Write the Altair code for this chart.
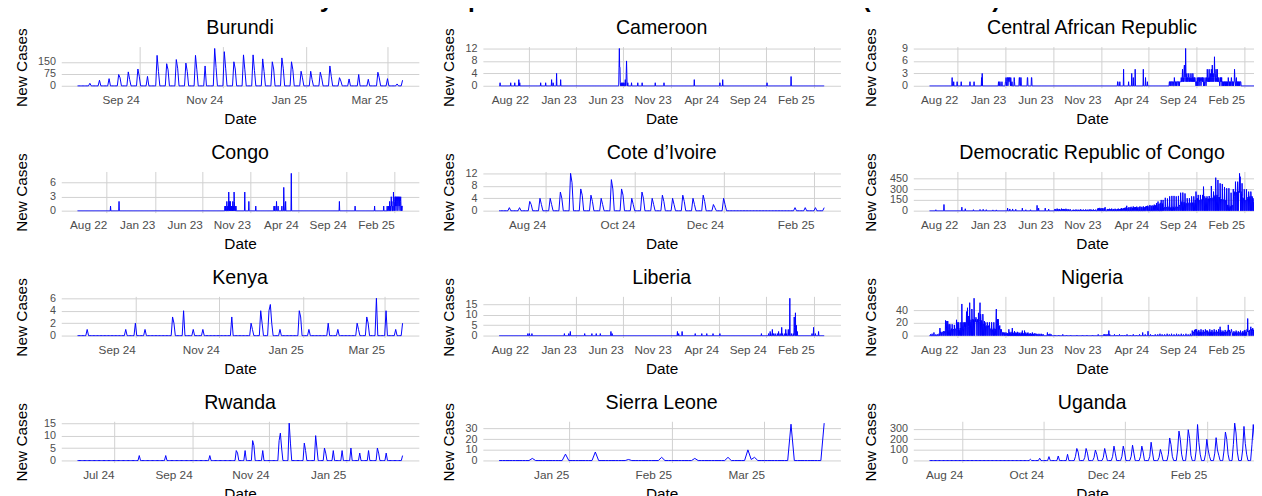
import altair as alt
import pandas as pd

FONT = "Liberation Sans"
PANEL_W = 365
PANEL_H = 42
DAY_MS = 86400000

MAIN_TITLE = "Daily Cases of Mpox in Selected African Countries (2022\u20132025)"

COUNTRIES = ["Burundi", "Cameroon", "Central African Republic",
             "Congo", "Cote d\u2019Ivoire", "Democratic Republic of Congo",
             "Kenya", "Liberia", "Nigeria",
             "Rwanda", "Sierra Leone", "Uganda"]

START_DATES = ["2024-07-18", "2022-04-29", "2022-05-03",
               "2022-04-30", "2024-06-30", "2022-05-03",
               "2024-07-21", "2022-04-29", "2022-05-03",
               "2024-06-02", "2024-12-11", "2024-07-07"]

N_DAYS = [237, 1041, 1037,
          1034, 223, 1037,
          236, 1041, 1037,
          258, 98, 245]

Y_TICKS = [[0, 75, 150], [0, 4, 8, 12], [0, 3, 6, 9],
           [0, 3, 6], [0, 4, 8, 12], [0, 150, 300, 450],
           [0, 2, 4, 6], [0, 5, 10, 15], [0, 20, 40],
           [0, 5, 10, 15], [0, 10, 20, 30], [0, 100, 200, 300]]

BREAKS_LONG = ["2022-08-01", "2023-01-01", "2023-06-01", "2023-11-01",
               "2024-04-01", "2024-09-01", "2025-02-01"]
BREAKS_SEP_MAR = ["2024-09-01", "2024-11-01", "2025-01-01", "2025-03-01"]
BREAKS_JUL_JAN = ["2024-07-01", "2024-09-01", "2024-11-01", "2025-01-01"]
BREAKS_AUG_FEB = ["2024-08-01", "2024-10-01", "2024-12-01", "2025-02-01"]
BREAKS_JAN_MAR = ["2025-01-01", "2025-02-01", "2025-03-01"]

X_BREAKS = [BREAKS_SEP_MAR, BREAKS_LONG, BREAKS_LONG,
            BREAKS_LONG, BREAKS_AUG_FEB, BREAKS_LONG,
            BREAKS_SEP_MAR, BREAKS_LONG, BREAKS_LONG,
            BREAKS_JUL_JAN, BREAKS_JAN_MAR, BREAKS_AUG_FEB]

# reported values: (day offset from start date, [values on consecutive days]); other days are 0
BURUNDI = [(9, [16]), (16, [35]), (23, [45]), (30, [71, 50]), (37, [87, 40]), (44, [105, 60]),
           (51, [59]), (58, [190, 90]), (65, [138, 100]), (72, [164, 110]), (79, [142, 90]),
           (86, [190, 100]), (93, [124]), (100, [233, 115]), (107, [213, 110]), (114, [150, 105]),
           (121, [193, 100]), (128, [193, 95]), (135, [168, 90]), (142, [150, 105]), (149, [174, 110]),
           (156, [150, 100]), (163, [91, 50]), (170, [91, 40]), (177, [85, 50]), (184, [124, 60]),
           (191, [51, 30]), (198, [43]), (205, [71]), (212, [41]), (219, [85, 50]), (226, [45]),
           (233, [12]), (237, [35])]

CAMEROON = [(3, [1]), (37, [1]), (50, [1]), (63, [2]), (66, [1]), (133, [1]), (149, [1]), (168, [2]),
            (173, [1]), (184, [4]), (197, [2]), (384, [6, 12, 6, 6, 1]), (391, [1]), (394, [1]),
            (397, [1]), (400, [1]), (404, [2]), (407, [4, 8, 4]), (412, [1]), (424, [1]), (444, [1]),
            (458, [1]), (500, [1]), (528, [1]), (625, [2]), (707, [1]), (716, [2]), (858, [1]), (935, [3])]

CAR = [(72, [2]), (77, [1]), (88, [1]), (101, [1]), (129, [1]), (142, [1]), (166, [2, 0, 3]),
       (220, [1, 0, 0, 0, 1, 1, 0, 0, 0, 0, 0, 1]),
       (242, [1, 1, 2, 1, 0, 1, 2, 2, 0, 1, 2, 1, 1, 2, 2, 1, 0, 2, 1]),
       (263, [1, 0, 0, 0, 0, 0, 0, 2, 1]), (286, [2, 2, 0, 0, 0, 2, 2]), (312, [2, 2]), (325, [2, 2]),
       (600, [1, 1]), (607, [1]), (619, [4]), (635, [1]), (645, [3]), (650, [2]), (656, [4]),
       (682, [4]), (689, [2]), (695, [1]),
       (765, [1, 1, 0, 1, 1, 0, 1, 1, 1, 0, 1, 1, 1, 1, 0, 0, 2, 1, 1, 0, 1, 1, 1, 0, 1, 1, 1, 1, 0, 1,
              1, 1, 0, 1, 1, 1]),
       (801, [1, 1, 2, 1, 1, 2, 4, 1, 2, 1, 2, 4, 5, 2, 1, 2, 9, 3, 1, 2, 3, 1, 2, 2, 1, 2, 3, 2, 1, 2,
              2, 1, 2, 3, 2, 1, 2, 2, 1, 3, 2, 1, 2, 2, 1, 2, 2, 1]),
       (849, [1, 0, 1, 1, 0, 2, 1, 0, 2, 2, 1, 0, 2, 1, 2, 2, 1, 0, 1, 2, 2, 1, 2, 1, 2, 0, 1, 1, 0, 1,
              2, 1, 1, 0, 1]),
       (884, [2, 1, 4, 2, 1, 2, 1, 2, 4, 1, 2, 1, 3, 2, 1, 4, 2, 1, 5, 2, 1, 3, 2, 1, 2, 7, 3, 2, 1, 3,
              4, 2, 1, 2, 4, 1, 2, 1, 1, 2, 1, 1, 0, 1, 2]),
       (929, [1, 2, 1, 2, 0, 1, 1, 0, 1, 0, 1, 1, 1, 0, 1, 0, 1, 1, 0, 1, 1, 0, 1, 0, 2, 1, 1, 0, 1, 0,
              1, 1, 0, 1, 2, 1, 0, 1, 1, 0, 1, 0, 1, 1, 4, 2, 1, 0, 1, 1, 2, 0, 1, 1, 0, 1, 0, 1, 1, 0,
              1, 0, 1, 1, 1])]

CONGO = [(105, [1]), (132, [2]),
         (469, [1, 0, 1, 0, 0, 0, 2, 0, 0, 1, 0, 0, 4, 1, 0, 2, 0, 2, 0, 1, 0, 1, 0, 1, 0, 2, 0, 1, 0, 4,
                2, 0, 1, 0, 0, 1]),
         (532, [4]), (545, [2]), (567, [1]), (625, [1]), (628, [1]), (633, [2]), (638, [1]), (650, [1]),
         (656, [5, 2]), (662, [2]), (680, [8]), (833, [2]), (883, [1]), (945, [1]), (974, [1]),
         (985, [1, 0, 0, 0, 1, 0, 0, 0, 2, 0, 1, 0, 0, 3, 1, 2, 0, 0, 1, 0, 4, 2, 1, 0, 2, 3, 1, 3, 0, 2,
                3, 1, 2, 3, 0, 1, 3, 2, 1, 3, 1, 0, 2, 3, 1, 0, 1, 0, 1, 1])]

COTE_DIVOIRE = [(7, [1]), (14, [1]), (21, [3, 2]), (28, [4, 2]), (35, [4, 2]), (42, [6, 4]), (49, [12, 9]),
                (56, [7, 5]), (63, [5, 3]), (70, [4, 2]), (77, [10, 7]), (84, [7, 5]), (91, [4, 2]),
                (98, [6, 4]), (105, [4, 2]), (112, [5, 3]), (119, [4, 2]), (126, [5, 3]), (133, [4, 2]),
                (140, [5, 3]), (147, [2, 1]), (154, [4, 2]), (203, [1]), (210, [1]), (217, [1]), (223, [1])]

DRC = [(20, [14]), (46, [87]), (103, [50]), (114, [28]), (140, [15]), (161, [18]), (171, [20]), (181, [15]),
       (202, [12]), (213, [12]), (249, [37]), (256, [25]), (265, [25]), (275, [20]), (296, [37]),
       (307, [14]), (322, [14]), (343, [75]), (348, [37]), (369, [37]), (380, [23]),
       (400, [25, 0, 0, 20, 0, 0, 0, 30, 0, 0, 20, 0, 0, 0, 25, 0, 0, 15, 0, 0, 0, 30, 0, 0, 20, 0, 0, 0,
              25, 0, 0, 20, 0, 0, 0, 28, 0, 0, 18, 0, 0, 0, 22, 0, 0, 15, 0, 0, 0, 20]),
       (456, [12, 0, 0, 0, 15, 0, 0, 10, 0, 0, 0, 18, 0, 0, 12, 0, 0, 0, 15, 0, 0, 10, 0, 0, 0, 20, 0, 0,
              14, 0, 0, 0, 12, 0, 0, 16, 0, 0, 0, 10, 0, 0, 18, 0, 0, 0, 12, 0, 0, 15, 0, 0, 0, 14, 0, 0,
              20, 0, 0, 0, 15, 0, 0, 12, 0, 0, 0, 18, 0, 0, 10, 0, 0, 0, 16]),
       (536, [30, 0, 0, 35, 0, 0, 0, 40, 0, 0, 30, 0, 0, 0, 38, 0, 0, 32, 0, 0, 0, 35, 0, 0, 50]),
       (567, [25, 0, 0, 0, 20, 0, 0, 28, 0, 0, 0, 22, 0, 0, 30, 0, 0, 0, 20, 0, 0, 25, 0, 0, 0, 28, 0, 0,
              20, 0, 0, 0, 24, 0, 0, 30, 0, 0, 0, 22, 0, 0, 26, 0, 0, 37]),
       (615, [30, 0, 0, 0, 35, 0, 0, 40, 0, 0, 0, 45, 0, 0, 69, 0, 0, 0, 40, 0, 0, 50, 0, 0, 0, 45, 0, 0,
              55, 0, 0, 0, 42, 0, 0, 60, 0, 0, 0, 48, 0, 0, 52, 0, 0, 0, 58, 0, 0, 45, 0, 0, 0, 50, 0, 0,
              60, 0, 0, 0, 55, 0, 0, 48, 0, 0, 0, 62, 0, 0, 50, 0, 0, 0, 58, 0, 0, 65]),
       (693, [55, 0, 0, 70, 0, 0, 0, 60, 0, 0, 80, 0, 0, 0, 65, 0, 0, 75, 0, 0, 0, 70, 0, 0, 85, 0, 0, 0,
              75, 0, 0, 105, 0, 0, 0, 90, 128, 0, 0, 95, 0, 0, 0, 110, 0, 0, 150, 0, 0, 0, 100, 0]),
       (745, [150, 50, 0, 40, 45, 50, 0, 180, 45, 0, 50, 40, 45, 0, 170, 50, 0, 45, 55, 50, 0,
              200, 50, 0, 40, 50, 45, 0, 206, 45, 0, 55, 50, 50, 0, 206, 50, 0, 45, 55, 50, 0,
              200, 50, 0, 50, 45, 55, 0, 206, 55, 0, 60, 80, 70, 0, 250, 128, 0, 120, 128, 115, 0,
              252, 130, 0, 115, 125, 120, 0, 240, 120, 0, 110, 105, 100, 0, 174, 105, 0, 100, 110, 105, 0,
              174, 100, 0, 105, 110, 100, 0, 200, 115, 0, 110, 115, 110, 0, 200, 115, 0, 110, 120, 150, 0,
              266, 150, 0, 160, 174, 165, 0, 220, 150, 0, 145, 150, 140, 0, 220, 150, 0, 140, 155, 150, 0,
              220, 150, 0, 335, 150, 145, 0, 200, 174, 0, 170, 165, 174, 0, 200, 174, 0, 160, 170, 165, 0,
              205, 170, 0, 174, 165, 170, 0, 344, 180, 0, 175, 180, 175, 0, 266, 190, 0, 200, 210, 200, 0,
              459, 210, 0, 200, 220, 210, 0, 427, 200, 0, 190, 180, 185, 0, 381, 170, 0, 160, 150, 155, 0,
              372, 150, 0, 150, 155, 150, 0, 330, 150, 0, 145, 150, 140, 0, 312, 100, 0, 80, 70, 60, 0,
              312, 60, 0, 70, 65, 60, 0, 250, 80, 0, 70, 80, 75, 0, 300, 150, 0, 200, 250, 266, 0,
              404, 266, 0, 250, 260, 255, 0, 404, 266, 0, 270, 260, 250, 519, 260, 473, 0, 250, 266, 240, 0,
              381, 200, 0, 180, 170, 150, 0, 298, 150, 0, 140, 150, 145, 0, 298, 160, 0, 150, 170, 190, 0,
              266, 197, 0, 190, 200, 197, 0, 266, 197, 0, 200, 190, 195, 0, 174, 128, 0, 120, 130, 128])]

KENYA = [(7, [1]), (35, [1]), (42, [2]), (49, [1]), (69, [3, 2]), (77, [4]), (84, [1]), (91, [1]),
         (112, [3]), (126, [2, 1]), (133, [4, 2]), (139, [4, 5, 2]), (147, [1]), (161, [4, 3]),
         (168, [1]), (182, [2]), (189, [1]), (203, [2, 1]), (210, [3, 2]), (217, [6]), (224, [4]),
         (231, [1]), (236, [2])]

LIBERIA = [(92, [1]), (97, [1]), (105, [1]), (209, [1]), (223, [1]), (228, [2]), (274, [1]), (297, [1]),
           (311, [1]), (324, [1]), (358, [2]), (362, [1]), (571, [2]), (575, [1]), (586, [2]), (628, [1]),
           (649, [1]), (665, [1]), (685, [1]), (707, [1]), (840, [1]), (863, [1]), (868, [2]), (870, [1]),
           (875, [3]), (879, [1]), (884, [1]), (891, [1]), (895, [2]), (900, [1]), (905, [4]), (908, [1]),
           (915, [1]), (918, [3]), (921, [1]), (926, [3]), (931, [18]), (936, [1]), (942, [1]),
           (945, [9, 4]), (949, [11]), (952, [5]), (955, [2]), (1002, [1]), (1007, [4]), (1013, [1]),
           (1023, [2])]

NIGERIA = [(3, [2]), (8, [3]), (14, [5]), (20, [2]), (25, [2]),
           (30, [3, 2, 0, 12, 5, 6, 0, 5, 4, 0, 6, 5, 4, 0, 7, 5, 0, 6, 5, 7, 0, 24, 10, 0, 12, 23, 10, 0,
                 23, 10, 0, 9, 18, 10, 0, 18, 10, 0, 9, 10, 11, 0, 18, 10, 0, 10, 9, 10, 0, 17, 10, 0, 11,
                 10, 9, 0, 25, 10, 0, 10, 21, 11, 0, 21, 10, 0, 9, 10, 12, 0, 21, 12, 0, 50, 20, 12, 0,
                 21, 12, 0, 11, 21, 13, 0, 21, 12, 0, 13, 38, 12, 0, 44, 15, 0, 14, 31, 16, 0,
                 52, 20, 0, 22, 25, 24, 0, 42, 24, 0, 26, 22, 25, 0, 59, 25, 0, 24, 26, 22, 29,
                 26, 24, 0, 25, 22, 26, 0, 36, 24, 0, 22, 25, 52, 0, 34, 25, 0, 24, 22, 20, 0,
                 34, 20, 0, 18, 16, 23, 0, 21, 16, 0, 15, 16, 14, 0, 21, 16, 0, 15, 14, 16, 0,
                 21, 12, 0, 10, 11, 9, 0, 21, 10, 0, 9, 10, 11, 0, 21, 10, 0, 11, 9, 10, 0,
                 26, 42, 0, 15, 16, 26, 0, 26, 16, 0, 14, 10, 16, 0, 10, 8, 0, 10, 6, 5, 0,
                 5, 4, 0, 5, 3, 4, 0, 5, 4, 0, 3, 5, 4, 0]),
           (247, [0, 4, 0, 3, 0, 0, 10, 0, 5, 0, 4, 0, 0, 6, 0, 3, 0, 12, 0, 5, 0, 0, 4, 0, 7, 0, 3, 0, 5,
                  0, 0, 4, 0, 6, 0, 3, 0, 0, 5, 0, 4, 0, 3, 0, 0, 5, 0, 4, 0, 8, 0, 3, 0, 0, 4, 0, 8, 0, 3,
                  0, 5, 0, 0, 3, 0, 4, 0, 5, 0, 0, 3, 0, 2, 0, 4, 0, 0, 3, 0, 2, 0, 5, 0, 0, 3, 0, 2, 0, 0,
                  4, 0, 2]),
           (339, [2, 0, 0, 3, 0, 0, 2, 0, 0, 0, 3, 0, 0, 2, 0, 0, 0, 3, 0, 0, 2, 0, 0, 0, 2, 0, 0, 0, 0, 0,
                  0, 0, 0, 0, 0, 0, 0, 5, 0, 0, 0, 2, 0, 0, 0, 3, 0, 0, 0, 2]),
           (400, [1]), (412, [1]), (425, [2]), (437, [1]), (450, [1]), (470, [1]), (488, [1]), (502, [1]),
           (520, [1]), (538, [2]),
           (556, [2, 0, 0, 2, 0, 0, 0, 2, 0, 0, 0, 2, 0, 0, 0, 0, 8, 0, 0, 2]),
           (590, [2]), (598, [1]), (606, [2]), (614, [1]), (622, [1]), (630, [2]), (640, [1]), (650, [2]),
           (660, [1]), (670, [2]), (680, [5]), (688, [2]), (697, [7]), (705, [2]), (712, [1]), (720, [2]),
           (728, [2]), (735, [3]), (742, [2]), (750, [2]), (758, [3]), (765, [2]), (772, [3]), (780, [2]),
           (788, [3]), (795, [2]), (803, [3]), (810, [2]), (818, [3]), (825, [2]), (832, [3]),
           (838, [8, 5, 0, 6, 5, 6, 0, 9, 6, 0, 10, 6, 5, 0, 10, 6, 0, 5, 6, 7, 0, 9, 5, 0, 6, 5, 6, 0,
                  10, 6, 0, 5, 6, 5, 0, 9, 5, 0, 6, 5, 6, 0, 10, 5, 0, 6, 8, 5, 0, 8, 6, 0, 5, 6, 5, 0,
                  10, 5, 0, 6, 5, 6, 0, 9, 5, 0, 6, 6, 5, 0, 10, 6, 0, 5, 6, 5, 0, 9, 5, 0, 6, 5, 6, 0,
                  10, 6, 0, 5, 6, 14, 0, 9, 5, 0, 6, 5, 6, 0, 8, 5, 0, 6, 4, 5, 0, 9, 5, 0, 6, 5, 6, 0,
                  8, 6, 0, 17, 6, 5, 0, 9, 5, 0, 6, 5, 6, 10, 8, 5, 0, 4, 5, 4, 0, 7, 4, 0, 5, 4, 5, 0,
                  8, 4, 0, 5, 4, 3, 0, 7, 3, 0, 4, 5, 3, 0, 8, 4, 0, 3, 4, 5, 0, 7, 4, 0, 5, 6, 8, 0,
                  9, 5, 0, 6, 5, 6, 0, 10, 6, 27, 8, 6, 7, 0, 9, 6, 0, 7, 8, 14, 0, 10, 8, 0, 7, 12, 8, 0,
                  9, 7, 10, 8])]

RWANDA = [(49, [2]), (70, [2]), (105, [2]), (126, [4, 3]), (133, [4]), (139, [8, 6]), (147, [4]),
          (160, [8, 11, 5]), (168, [15, 7]), (180, [7, 4]), (189, [10, 5]), (196, [5, 3]), (203, [4]),
          (210, [4]), (217, [5]), (224, [3]), (231, [4]), (238, [5, 3]), (245, [3]), (258, [2])]

SIERRA_LEONE = [(10, [2]), (20, [6]), (29, [8]), (39, [1]), (49, [3]), (59, [2]), (69, [3]),
                (75, [10, 1, 3]), (88, [34]), (98, [35])]

UGANDA = [(76, [12]), (83, [22]), (90, [37]), (97, [43]), (104, [59]), (110, [40, 114, 80]),
          (117, [30, 114, 70]), (124, [30, 99, 60]), (131, [30, 114, 60]), (138, [40, 136, 70]),
          (145, [40, 136, 80]), (152, [40, 145, 70]), (159, [40, 136, 80]), (166, [40, 173, 80]),
          (173, [30, 105, 60]), (180, [60, 213, 150, 40]), (187, [100, 278, 200, 60]),
          (194, [120, 291, 210, 50]), (201, [100, 340, 170, 60]), (208, [60, 201, 100, 40]),
          (215, [70, 216, 100, 50]), (222, [100, 269, 200, 60]), (229, [150, 353, 260, 80]),
          (236, [100, 322, 160, 60]), (243, [150, 340, 180])]

SERIES = [BURUNDI, CAMEROON, CAR, CONGO, COTE_DIVOIRE, DRC,
          KENYA, LIBERIA, NIGERIA, RWANDA, SIERRA_LEONE, UGANDA]

Y_TITLE_X = [-40.6, -34.5, -44.0]


def ms(s):
    return int(pd.Timestamp(s, tz="UTC").value // 10**6)


def build_frame(start, ndays, runs):
    vals = [0] * (ndays + 1)
    for day, seq in runs:
        for i, v in enumerate(seq):
            if 0 <= day + i <= ndays:
                vals[day + i] = v
    dates = pd.date_range(start, periods=ndays + 1, freq="D")
    return pd.DataFrame({"date": dates.strftime("%Y-%m-%d"), "cases": vals})


def make_panel(name, start, ndays, runs, yticks, xbreaks, title_x):
    df = build_frame(start, ndays, runs)
    t0 = ms(start)
    t1 = t0 + ndays * DAY_MS
    pad = 0.05 * (t1 - t0)
    ymax = float(df["cases"].max())
    ypad = 0.05 * ymax
    line = alt.Chart(df).mark_line(color="#0000ff", strokeWidth=1, strokeJoin="round").encode(
        x=alt.X("date:T", title="Date",
                scale=alt.Scale(type="utc", domain=[t0 - pad, t1 + pad], nice=False),
                axis=alt.Axis(values=[ms(b) for b in xbreaks], format="%b %y",
                              labelAlign="right", labelBaseline="alphabetic", labelPadding=16.5,
                              labelFontSize=12, labelOverlap=False, labelFlush=False,
                              titleX=PANEL_W / 2, titleY=37, titleBaseline="alphabetic",
                              titleAlign="center")),
        y=alt.Y("cases:Q", title="New Cases",
                scale=alt.Scale(domain=[-ypad, ymax + ypad], nice=False, zero=False),
                axis=alt.Axis(values=yticks, format="d", labelAlign="right", labelBaseline="middle",
                              labelPadding=6, labelFontSize=11, labelOverlap=False, labelFlush=False,
                              titleAngle=270, titleX=title_x, titleY=PANEL_H / 2,
                              titleBaseline="middle", titleAlign="center")),
    )
    head = alt.Chart(pd.DataFrame({"country": [name]})).mark_text(
        font=FONT, fontSize=20, color="#000000", align="center", baseline="alphabetic"
    ).encode(text="country:N", x=alt.value(PANEL_W / 2), y=alt.value(-12.5))
    return alt.layer(line, head).properties(width=PANEL_W, height=PANEL_H)


panels = []
for i, name in enumerate(COUNTRIES):
    panels.append(make_panel(name, START_DATES[i], N_DAYS[i], SERIES[i], Y_TICKS[i],
                             X_BREAKS[i], Y_TITLE_X[i % 3]))

chart = alt.concat(
    *panels, columns=3, spacing={"row": 16.5, "column": 22.4}, align="each", bounds="full"
).properties(
    title=alt.TitleParams(text=MAIN_TITLE, font=FONT, fontSize=24.8, fontWeight="bold",
                          anchor="middle", baseline="alphabetic", offset=-12.8, dx=-4.7, color="#000000"),
    padding={"top": -26.8, "left": 5.4, "right": -17.4, "bottom": 0},
    background="#ffffff",
).configure_view(strokeWidth=0).configure_axis(
    labelFont=FONT, labelColor="#4d4d4d",
    titleFont=FONT, titleFontSize=15.7, titleFontWeight="normal", titleColor="#000000",
    grid=True, gridColor="#d0d0d0", gridWidth=1, domain=False, ticks=False, tickSize=0,
)

chart.save("out.html", embed_options={"renderer": "svg", "actions": False})
